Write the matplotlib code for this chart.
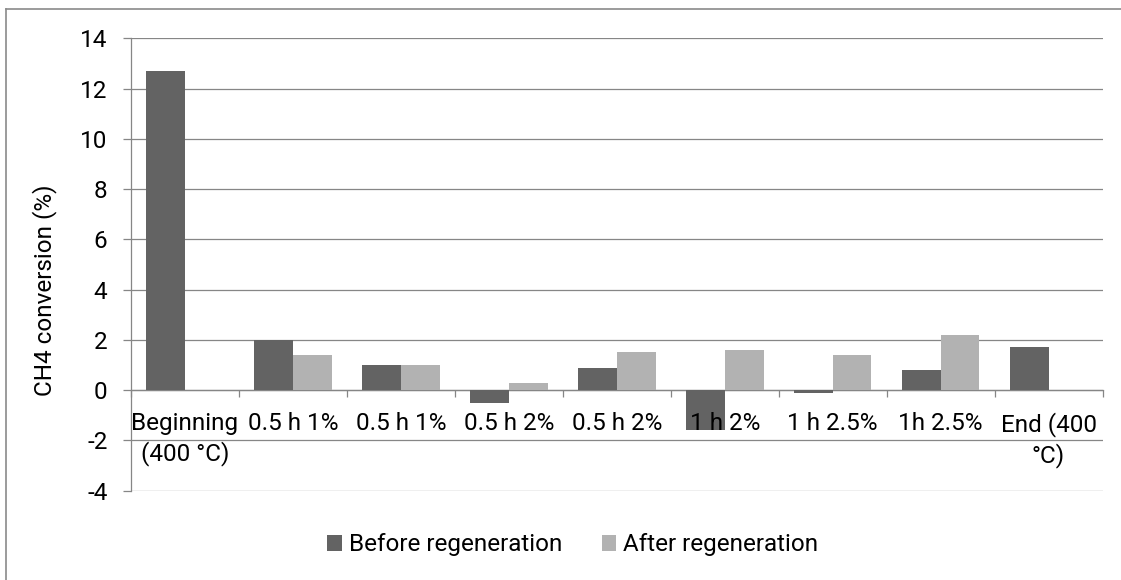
import matplotlib
matplotlib.use('Agg')
import matplotlib.pyplot as plt
from matplotlib.lines import Line2D
import numpy as np

# Data
categories = ['Beginning\n(400 °C)', '0.5 h 1%', '0.5 h 1%', '0.5 h 2%', '0.5 h 2%',
              '1 h 2%', '1 h 2.5%', '1h 2.5%', 'End (400\n°C)']
before = [12.7, 2.0, 1.0, -0.5, 0.9, -1.6, -0.1, 0.8, 1.7]
after = [0.0, 1.4, 1.0, 0.3, 1.5, 1.6, 1.4, 2.2, 0.0]
yticks = [-4, -2, 0, 2, 4, 6, 8, 10, 12, 14]

plt.rcParams['font.family'] = ['Roboto', 'DejaVu Sans']
plt.rcParams['axes.unicode_minus'] = False

W, H = 1121, 580
FS = 17.5
GRID = '#868686'

fig = plt.figure(figsize=(W / 100, H / 100), dpi=100)
ax = fig.add_axes([131 / W, (H - 490.7) / H, (1102.5 - 131) / W, (490.7 - 38.3) / H])

x = np.arange(len(categories))
bw = 0.36
ax.bar(x - bw / 2, before, bw, color='#636363', label='Before regeneration', zorder=1)
ax.bar(x + bw / 2, after, bw, color='#b2b2b2', label='After regeneration', zorder=1)

ax.set_xlim(-0.5, len(categories) - 0.5)
ax.set_ylim(-4, 14)
ax.set_yticks(yticks)
# horizontal gridlines kept under the bars, tick labels above them
for yv in yticks:
    ax.axhline(yv, color=GRID, linewidth=0.9, zorder=0)

for s in ['top', 'right']:
    ax.spines[s].set_visible(False)
ax.spines['left'].set_color(GRID)
ax.spines['left'].set_linewidth(0.9)
ax.spines['bottom'].set_position(('data', 0))
ax.spines['bottom'].set_color(GRID)
ax.spines['bottom'].set_linewidth(0.9)
ax.spines['bottom'].set_zorder(0.5)

ax.set_xticks(x)
ax.set_xticklabels(categories, fontsize=FS, linespacing=1.3)
ax.set_xticks(np.arange(-0.5, len(categories)), minor=True)
ax.tick_params(axis='x', which='major', length=0, pad=16)
ax.tick_params(axis='x', which='minor', length=5, color=GRID, width=0.9)
ax.tick_params(axis='y', length=6, color=GRID, width=0.9, labelsize=FS, pad=11)
ax.xaxis.set_zorder(2)

ax.set_ylabel('CH4 conversion (%)', fontsize=FS)
ax.yaxis.set_label_coords(57 / W, 0.5, transform=fig.transFigure)

fig.legend(loc='center', bbox_to_anchor=(573 / W, 1 - 545 / H), ncol=2, frameon=False,
           fontsize=FS, handlelength=0.6, handleheight=0.6, handletextpad=0.3,
           columnspacing=1.6)

# outer chart frame (top and left edges)
fig.add_artist(Line2D([6 / W, 1], [1 - 9 / H, 1 - 9 / H], color='#8a8a8a', linewidth=1.2,
                      transform=fig.transFigure))
fig.add_artist(Line2D([6 / W, 6 / W], [0, 1 - 9 / H], color='#8a8a8a', linewidth=1.2,
                      transform=fig.transFigure))

fig.savefig('out.png', dpi=100)
